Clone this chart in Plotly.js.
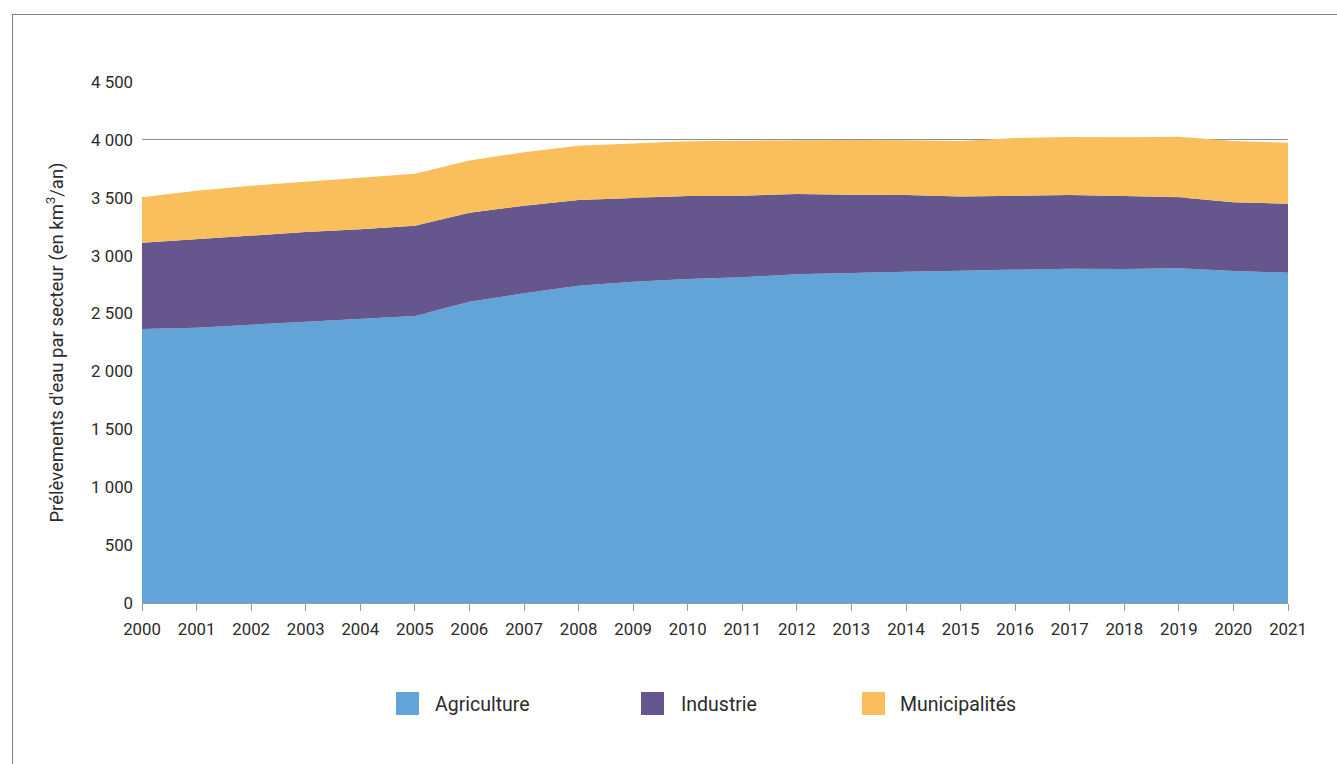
<!DOCTYPE html>
<html>
<head>
<meta charset="utf-8">
<script src="https://cdn.plot.ly/plotly-3.0.1.min.js"></script>
<style>
  html, body { margin: 0; padding: 0; background: #fff; }
  #chart { position: absolute; left: 0; top: 0; width: 1337px; height: 764px; }
  #frame { position: absolute; left: 12px; top: 14px; width: 1400px; height: 800px;
           border-left: 1.5px solid #808080; border-top: 1.5px solid #808080; pointer-events: none; }
</style>
</head>
<body>
<div id="chart"></div>
<div id="frame"></div>
<script>
// ---- Data (km³/an) ----
const years = [2000,2001,2002,2003,2004,2005,2006,2007,2008,2009,2010,2011,2012,2013,2014,2015,2016,2017,2018,2019,2020,2021];
const agriculture   = [2367,2378,2404,2427,2450,2479,2602,2675,2741,2775,2798,2813,2839,2853,2862,2870,2882,2888,2885,2891,2868,2853];
const industrie     = [745,766,768,777,778,780,769,757,740,723,717,705,694,674,662,640,633,636,630,613,593,596];
const municipalites = [392,417,432,435,440,449,452,461,469,472,473,475,466,472,472,480,501,501,507,524,529,527];
const seriesNames   = ["Agriculture", "Industrie", "Municipalités"];
const yTickVals     = [0,500,1000,1500,2000,2500,3000,3500,4000,4500];
const yTitle        = "Prélèvements d'eau par secteur (en km<sup>3</sup>/an)";

// ---- Styling ----
const colors = ["#62A3D8", "#65568E", "#F8BF5C"];
const W = 1337, H = 764;
const M = {l: 142, r: 49, t: 82, b: 161};
const plotW = W - M.l - M.r, plotH = H - M.t - M.b;
const px2x = p => (p - M.l) / plotW;
const px2y = p => (H - M.b - p) / plotH;

const values = [agriculture, industrie, municipalites];
const traces = values.map((v, i) => ({
  type: 'scatter',
  x: years,
  y: v,
  name: seriesNames[i],
  stackgroup: 'one',
  mode: 'lines',
  line: {width: 0, color: colors[i]},
  fillcolor: colors[i],
  showlegend: false,
  hoverinfo: 'x+y+name'
}));

// custom legend (squares + labels)
const legendSquares = [396, 641, 862];
const legendTexts = [433, 679, 898];
const shapes = [];
const annotations = [];
seriesNames.forEach((n, i) => {
  shapes.push({
    type: 'rect', xref: 'paper', yref: 'paper',
    x0: px2x(legendSquares[i]), x1: px2x(legendSquares[i] + 23),
    y0: px2y(692), y1: px2y(715),
    fillcolor: colors[i], line: {width: 0}
  });
  annotations.push({
    xref: 'paper', yref: 'paper', x: px2x(legendTexts[i]), y: px2y(704),
    xanchor: 'left', yanchor: 'middle', showarrow: false,
    text: n, font: {family: 'Roboto, sans-serif', size: 19.5, color: '#2b2b2b'}
  });
});

const layout = {
  width: W, height: H,
  margin: M,
  paper_bgcolor: '#fff', plot_bgcolor: '#fff',
  separators: ', ',
  font: {family: 'Roboto, sans-serif', size: 17, color: '#2b2b2b'},
  showlegend: false,
  xaxis: {
    range: [2000, 2021],
    tickvals: years,
    ticktext: years.map(String),
    ticks: 'outside', ticklen: 7, tickcolor: '#9a9a9a', tickwidth: 1,
    showline: true, linecolor: '#9a9a9a', linewidth: 1,
    showgrid: false, zeroline: false,
    ticklabelstandoff: 4,
    tickfont: {size: 16.8}
  },
  yaxis: {
    range: [0, 4500],
    tickvals: yTickVals,
    separatethousands: true,
    tickformat: ',d',
    showgrid: true, gridcolor: '#8f8f8f', gridwidth: 1,
    zeroline: false, showline: false, ticks: '',
    ticklabelstandoff: 8,
    tickfont: {size: 16.8},
    title: {text: yTitle, font: {size: 18.5}, standoff: 22}
  },
  shapes: shapes,
  annotations: annotations
};

Plotly.newPlot('chart', traces, layout, {displayModeBar: false, staticPlot: true});
</script>
</body>
</html>
